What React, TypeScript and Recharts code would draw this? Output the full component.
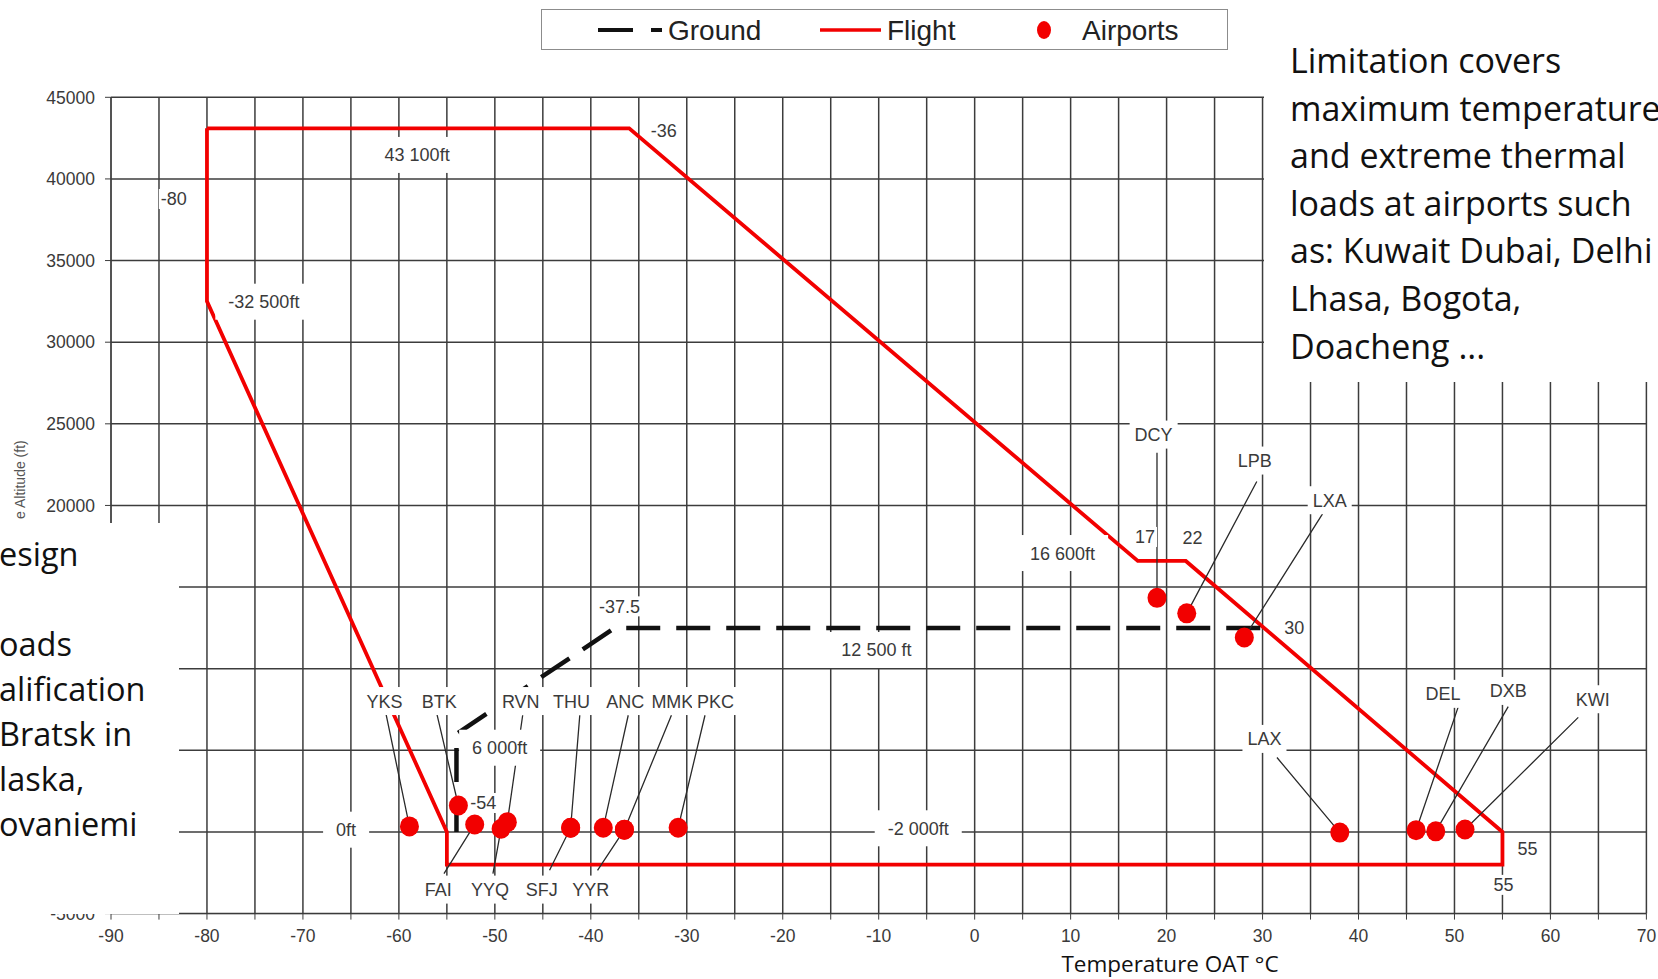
import React from "react";
import { CartesianGrid, ComposedChart, Line, Scatter, XAxis, YAxis } from "recharts";

const W = 1658;
const H = 979;

const xTicks = [
  -90, -85, -80, -75, -70, -65, -60, -55, -50, -45, -40, -35, -30, -25, -20, -15, -10,
  -5, 0, 5, 10, 15, 20, 25, 30, 35, 40, 45, 50, 55, 60, 65, 70,
];
const yTicks = [-5000, 0, 5000, 10000, 15000, 20000, 25000, 30000, 35000, 40000, 45000];
// tick labels that the slide's text box hides
const hiddenYTicks = [0, 5000, 10000, 15000];

// flight envelope, walked round from the -80 / 43 100 ft corner
const flightTemp = [-80, -36, 17, 22, 55, 55, -55, -55, -80, -80];
const flightAlt = [43100, 43100, 16600, 16600, 0, -2000, -2000, 0, 32500, 43100];

// ground envelope
const groundTemp = [-54, -54, -37.5, 30];
const groundAlt = [0, 6000, 12500, 12500];

// airports: dot, label centre, start of the leader line under the label
const airportCodes = [
  "YKS", "BTK", "RVN", "THU", "ANC", "MMK", "PKC", "FAI", "YYQ", "SFJ", "YYR",
  "DCY", "LPB", "LXA", "LAX", "DEL", "DXB", "KWI",
];
const airportTemp = [
  -58.9, -53.8, -48.7, -42.1, -38.7, -36.5, -30.9, -52.1, -49.35, -42.1, -36.5,
  19.0, 22.1, 28.1, 38.05, 46.0, 48.05, 51.1,
];
const airportAlt = [
  340, 1620, 600, 260, 260, 140, 260, 460, 200, 260, 140,
  14340, 13390, 11910, -40, 110, 40, 150,
];
const labelTemp = [
  -61.5, -55.8, -47.3, -42.0, -36.4, -31.5, -27.0, -55.9, -50.5, -45.1, -40.0,
  18.65, 29.2, 37.0, 30.2, 48.8, 55.6, 64.4,
];
const labelAlt = [
  8020, 8020, 8020, 8020, 8020, 8020, 8020, -3530, -3530, -3530, -3530,
  24340, 22750, 20320, 5700, 8460, 8640, 8130,
];
const leaderTemp = [
  -61.35, -56.05, -47.1, -41.15, -36.1, -31.6, -28.1, -55.3, -50.2, -44.3, -39.3,
  19.0, 29.4, 36.25, 31.5, 50.4, 55.6, 62.9,
];
const leaderAlt = [
  7250, 7250, 7150, 7150, 7150, 7150, 7150, -2550, -2550, -2350, -2350,
  23230, 21470, 19485, 4560, 7680, 7680, 7020,
];

// small corner values
const valueText = ["-80", "-36", "17", "22", "-37.5", "30", "-54", "55", "55"];
const valueTemp = [-83.45, -32.4, 17.75, 22.7, -37.0, 33.3, -51.2, 57.6, 55.1];
const valueAlt = [38770, 42950, 18070, 18020, 13820, 12540, 1775, -1030, -3240];

// boxed altitude notes
const altText = ["43 100ft", "-32 500ft", "16 600ft", "12 500 ft", "6 000ft", "0ft", "-2 000ft"];
const altTemp = [-58.1, -74.07, 9.16, -10.24, -49.5, -65.5, -5.88];
const altAlt = [41470, 32480, 17085, 11146, 5160, 140, 226];

const rightNote = [
  "Limitation covers",
  "maximum temperature",
  "and extreme thermal",
  "loads at airports such",
  "as: Kuwait Dubai, Delhi",
  "Lhasa, Bogota,",
  "Doacheng ...",
];
const leftNote = ["esign", "", "oads", "alification", "Bratsk in", "laska,", "ovaniemi"];

const RED = "#f20000";
const INK = "#3a3a3a";
const GRID = "#3c3c3c";
const ARIAL = "'Liberation Sans', Arial, Helvetica, sans-serif";
const BODY = "'Open Sans', 'Noto Sans', sans-serif";
const FS = 18;

const flight = flightTemp.map((t, i) => ({ t, alt: flightAlt[i] }));
const ground = groundTemp.map((t, i) => ({ t, alt: groundAlt[i] }));
const dots = airportCodes.map((code, i) => ({ code, t: airportTemp[i], alt: airportAlt[i] }));
const codeLabels = airportCodes.map((text, i) => ({ text, t: labelTemp[i], alt: labelAlt[i] }));
const leaders = airportCodes.flatMap((_, i) => [
  { t: leaderTemp[i], alt: leaderAlt[i] },
  { t: airportTemp[i], alt: airportAlt[i] },
  { t: airportTemp[i], alt: null as number | null },
]);
const valueNotes = valueText.map((text, i) => ({ text, t: valueTemp[i], alt: valueAlt[i] }));
const altNotes = altText.map((text, i) => ({ text, t: altTemp[i], alt: altAlt[i] }));

const CHAR_W: Record<string, number> = {
  "0": 0.556, "1": 0.556, "2": 0.556, "3": 0.556, "4": 0.556, "5": 0.556, "6": 0.556,
  "7": 0.556, "8": 0.556, "9": 0.556, " ": 0.278, "-": 0.333, ".": 0.278, f: 0.278, t: 0.278,
  M: 0.833, I: 0.278, L: 0.556, C: 0.722, D: 0.722, N: 0.722, H: 0.722, U: 0.722, Q: 0.778,
  R: 0.722, W: 0.944, F: 0.611, T: 0.611,
};

function textWidth(s: string, fs: number) {
  let w = 0;
  for (const ch of s) w += CHAR_W[ch] ?? 0.667;
  return w * fs;
}

function boxedText(padX: number, padY: number) {
  return (props: any) => {
    const { cx, cy, payload } = props;
    if (cx == null || cy == null) return <g />;
    const w = textWidth(payload.text, FS) + 2 * padX;
    const h = FS + 2 * padY;
    return (
      <g>
        <rect x={cx - w / 2} y={cy - h / 2} width={w} height={h} fill="#fff" />
        <text
          x={cx}
          y={cy}
          dy="0.36em"
          textAnchor="middle"
          fontSize={FS}
          fontFamily={ARIAL}
          fill={INK}
        >
          {payload.text}
        </text>
      </g>
    );
  };
}

const airportDot = (props: any) => {
  const { cx, cy } = props;
  if (cx == null || cy == null) return <g />;
  return <ellipse cx={cx} cy={cy} rx={9.5} ry={10} fill={RED} />;
};

const YTitle = (props: any) => {
  const vb = props.viewBox ?? { x: 11, y: 97 };
  const x = vb.x + 14;
  const y = vb.y + 343;
  return (
    <text
      x={x}
      y={y}
      transform={`rotate(-90, ${x}, ${y})`}
      textAnchor="end"
      fontSize={14}
      fontFamily={ARIAL}
      fill="#555"
    >
      {"e Altitude  (ft)"}
    </text>
  );
};

const XTitle = (props: any) => {
  const vb = props.viewBox ?? { x: 111, y: 914 };
  return (
    <text
      x={vb.x + 1059}
      y={vb.y + 58}
      textAnchor="middle"
      fontSize={22.5}
      fontFamily={BODY}
      fill="#111"
    >
      Temperature OAT °C
    </text>
  );
};

function ChartLegend() {
  return (
    <div
      style={{
        position: "absolute",
        left: 541,
        top: 9,
        width: 687,
        height: 41,
        border: "1.5px solid #8c8c8c",
        boxSizing: "border-box",
        background: "#fff",
      }}
    >
      <svg width={684} height={38} style={{ display: "block" }}>
        <line x1={56} x2={91} y1={20} y2={20} stroke="#111" strokeWidth={4} />
        <line x1={109} x2={120} y1={20} y2={20} stroke="#111" strokeWidth={4} />
        <text x={126} y={30} fontSize={28} fontFamily={ARIAL} fill="#222">
          Ground
        </text>
        <line x1={278} x2={339} y1={20} y2={20} stroke={RED} strokeWidth={3.5} />
        <text x={345} y={30} fontSize={28} fontFamily={ARIAL} fill="#222">
          Flight
        </text>
        <ellipse cx={502} cy={20} rx={7} ry={9} fill={RED} />
        <text x={540} y={30} fontSize={28} fontFamily={ARIAL} fill="#222">
          Airports
        </text>
      </svg>
    </div>
  );
}

export default function App() {
  const yAxisWidth = 100;
  return (
    <div
      style={{
        position: "absolute",
        left: 0,
        top: 0,
        width: W,
        height: H,
        overflow: "hidden",
        background: "#fff",
      }}
    >
      <ComposedChart
        width={W}
        height={H}
        margin={{ top: 97.3, right: 11.6, left: 111 - yAxisWidth, bottom: 35.4 }}
      >
        <CartesianGrid stroke={GRID} strokeWidth={1.5} />
        <XAxis
          type="number"
          dataKey="t"
          domain={[-90, 70]}
          ticks={xTicks}
          interval={0}
          allowDataOverflow
          height={30}
          stroke={GRID}
          tickSize={6}
          tickMargin={10}
          tickFormatter={(v: number) => (v % 10 === 0 ? String(v) : "")}
          tick={{ fontSize: 17.5, fontFamily: ARIAL, fill: INK }}
          label={<XTitle />}
        />
        <YAxis
          type="number"
          dataKey="alt"
          domain={[-5000, 45000]}
          ticks={yTicks}
          interval={0}
          allowDataOverflow
          width={yAxisWidth}
          stroke={GRID}
          tickSize={6}
          tickMargin={10}
          tickFormatter={(v: number) => (hiddenYTicks.includes(v) ? "" : String(v))}
          tick={{ fontSize: 17.5, fontFamily: ARIAL, fill: INK }}
          label={<YTitle />}
        />
        <Line
          data={flight}
          dataKey="alt"
          type="linear"
          stroke={RED}
          strokeWidth={3.8}
          dot={false}
          activeDot={false}
          isAnimationActive={false}
        />
        <Line
          data={ground}
          dataKey="alt"
          type="linear"
          stroke="#111"
          strokeWidth={4.5}
          strokeDasharray="34 16"
          dot={false}
          activeDot={false}
          isAnimationActive={false}
        />
        <Line
          data={leaders}
          dataKey="alt"
          type="linear"
          stroke="#2a2a2a"
          strokeWidth={1.3}
          connectNulls={false}
          dot={false}
          activeDot={false}
          isAnimationActive={false}
        />
        <Scatter data={altNotes} dataKey="alt" shape={boxedText(13, 9)} isAnimationActive={false} />
        <Scatter data={valueNotes} dataKey="alt" shape={boxedText(2, 1)} isAnimationActive={false} />
        <Scatter data={codeLabels} dataKey="alt" shape={boxedText(5, 5)} isAnimationActive={false} />
        <Scatter data={dots} dataKey="alt" shape={airportDot} isAnimationActive={false} />
      </ComposedChart>

      <ChartLegend />

      <div
        style={{
          position: "absolute",
          left: 1264,
          top: 52,
          width: W - 1264,
          height: 330,
          background: "#fff",
        }}
      />
      <div
        style={{
          position: "absolute",
          left: 1290,
          top: 37,
          fontFamily: BODY,
          fontSize: 34,
          lineHeight: "47.6px",
          color: "#111",
          whiteSpace: "pre",
        }}
      >
        {rightNote.map((line, i) => (
          <div key={i}>{line}</div>
        ))}
      </div>

      <div
        style={{
          position: "absolute",
          left: 0,
          top: 523,
          width: 179,
          height: 391,
          background: "#fff",
          overflow: "hidden",
        }}
      >
        <div
          style={{
            position: "absolute",
            left: -1,
            top: 8,
            fontFamily: BODY,
            fontSize: 32.5,
            lineHeight: "45px",
            color: "#111",
            whiteSpace: "pre",
          }}
        >
          {leftNote.map((line, i) => (
            <div key={i} style={{ height: 45 }}>
              {line}
            </div>
          ))}
        </div>
      </div>
    </div>
  );
}
